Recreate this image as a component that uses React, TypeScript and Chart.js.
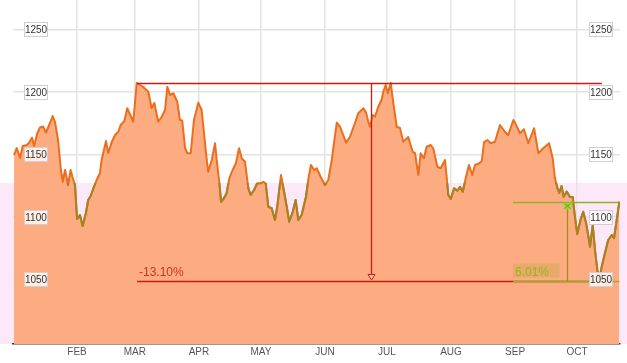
import React, { useEffect, useRef } from 'react';
import { Chart, registerables } from 'chart.js';

Chart.register(...registerables);

// Day of year (0 = Jan 1) and closing values
const days = [
  0.5, 1.8, 3.4, 4.7, 6.6, 7.7, 9.2, 10.2, 11.8, 13.1,
  14.5, 16, 17.9, 19.2, 20.3, 21.8, 23.2, 24.1, 25.2, 26,
  26.6, 27.9, 28.9, 30, 31, 32.4, 33.7, 35.3, 36.4, 37.6,
  39.2, 40.5, 42.1, 42.9, 45, 46.1, 47.8, 49.4, 51, 52.1,
  53.9, 55.3, 58.2, 59.9, 62.9, 65.5, 67.1, 68.4, 70.3, 72,
  73.6, 74.7, 76, 77.6, 79.5, 80.8, 81.9, 83.3, 84.4, 86,
  87.6, 89.7, 91.3, 93.8, 94.5, 96.2, 97.8, 98.6, 99.9, 100.7,
  102.1, 103.4, 104.7, 106.3, 107.9, 109.4, 110.7, 112.3, 113.9, 115,
  116.7, 118.2, 119.9, 121.2, 122.3, 123.6, 125.2, 126.8, 127.9, 129.7,
  131.2, 132.5, 133.7, 135.4, 136.8, 138.1, 139.7, 141.8, 142.9, 144.2,
  145.8, 147, 148.9, 151, 152.6, 154.3, 156.7, 158.3, 161.2, 163.1,
  165.5, 167.1, 169.6, 170.9, 172, 172.8, 174.1, 175.2, 176.8, 178.5,
  179.2, 180.4, 181.4, 182.8, 184.1, 185.7, 187.3, 188.9, 191.3, 193.5,
  194.6, 196.2, 197.3, 198.9, 200.2, 202.2, 203.4, 205.4, 207, 209.1,
  209.9, 210.7, 211.9, 213.5, 215.1, 216.4, 217.7, 219.1, 220.7, 222.3,
  223.6, 225.7, 226.9, 228, 229.6, 231.2, 233.3, 235.7, 238.1, 239.7,
  242.2, 243.5, 245.4, 247.3, 249.4, 252.2, 254.3, 256.6, 259.5, 261.2,
  262.3, 263.5, 264.4, 265.5, 266.5, 268, 269.6, 270.9, 272, 273.1,
  274.8, 276, 277.4, 278.8, 279.3, 280.6, 281.7, 282.9, 283.8, 284.9,
  286.5, 288.1, 289.8, 290.9, 292.2, 293.5,
];

const closes = [
  1149.4, 1155, 1147, 1156.6, 1157.4, 1159, 1163.3, 1156.6, 1167, 1171.4,
  1172.2, 1167.4, 1175, 1180.6, 1176, 1161.4, 1137.4, 1128, 1137.4, 1131,
  1125.4, 1137.4, 1131, 1125.4, 1098.2, 1101.4, 1092.6, 1103, 1113.4, 1116.6,
  1124, 1129.4, 1135, 1145.4, 1160.6, 1151, 1159.8, 1165.4, 1168, 1173.4,
  1176.6, 1186.8, 1176, 1207, 1204, 1200, 1186.8, 1191, 1176, 1180,
  1185.4, 1204, 1197.4, 1198.8, 1192, 1177.4, 1177, 1155, 1150.8, 1150.8,
  1177.4, 1191.3, 1185.4, 1145.4, 1136, 1145.4, 1158.8, 1145.4, 1127, 1112,
  1114.8, 1118.8, 1130.8, 1137.4, 1142.8, 1154.8, 1146.8, 1144, 1122.8, 1117.4,
  1121.4, 1126.8, 1126.8, 1128, 1126.8, 1108, 1106.8, 1097.4, 1108, 1133.4,
  1120, 1108, 1096, 1104, 1113.4, 1097.4, 1101.4, 1116, 1129.4, 1141.4,
  1137.4, 1138.8, 1132, 1125.4, 1129.4, 1145.4, 1175.3, 1172, 1159.3, 1164,
  1174.8, 1182.8, 1186.8, 1183.3, 1176, 1172, 1181.4, 1180, 1188, 1194,
  1200, 1205.4, 1198.8, 1207, 1190.8, 1172, 1171, 1160, 1163.8, 1151.8,
  1150.8, 1133.4, 1150.8, 1146.8, 1156, 1157.4, 1154.8, 1140, 1138.8, 1145.4,
  1132, 1117.4, 1114.2, 1122.8, 1120.8, 1124, 1120, 1130.8, 1141.4, 1133.4,
  1141.4, 1142.8, 1144.6, 1159.8, 1161.4, 1158.8, 1160, 1173.4, 1168, 1165.4,
  1177.4, 1173.4, 1166.8, 1170, 1158.8, 1170.8, 1150.8, 1154.8, 1158.8, 1147,
  1131, 1123, 1119, 1124.6, 1116, 1120.2, 1115.8, 1115.8, 1100, 1086.2,
  1098.2, 1104, 1094.8, 1081.4, 1076, 1093.4, 1073.4, 1056.6, 1049, 1059.8,
  1070.8, 1081.4, 1085.4, 1082.8, 1097.4, 1112,
];

const monthDays = [31, 59, 90, 120, 151, 181, 212, 243, 273];
const monthLabels = ['FEB', 'MAR', 'APR', 'MAY', 'JUN', 'JUL', 'AUG', 'SEP', 'OCT'];
const yTicks = [1050, 1100, 1150, 1200, 1250];

// Pink zone top
const bandTop = 1127;

// Drawdown annotation
const ddHigh = 1207;
const ddLow = 1049;
const ddStartDay = 60;
const ddEndDay = 285;
const ddArrowDay = 173.3;
const ddLabel = '-13.10%';

// Rebound annotation
const rbHigh = 1112;
const rbLow = 1049;
const rbStartDay = 242;
const rbEndDay = 293.5;
const rbMarkDay = 268.2;
const rbLabel = '6.01%';

const FONT = '"Liberation Sans", Arial, sans-serif';

export default function App() {
  const ref = useRef<HTMLCanvasElement | null>(null);

  useEffect(() => {
    document.body.style.margin = '0';
    const canvas = ref.current;
    if (!canvas) return;
    const pts = days.map((d, i) => ({ x: d, y: closes[i] }));

    const bandPlugin = {
      id: 'band',
      beforeDraw(chart: any) {
        const { ctx, scales } = chart;
        const y0 = scales.y.getPixelForValue(bandTop);
        const y1 = chart.chartArea.bottom;
        ctx.save();
        ctx.fillStyle = 'rgb(252,232,248)';
        ctx.fillRect(0, y0, chart.width, y1 - y0);
        ctx.restore();
      },
      beforeDatasetDraw(chart: any, args: any) {
        if (args.index !== 0) return;
        const { ctx, scales } = chart;
        const y0 = scales.y.getPixelForValue(bandTop);
        ctx.save();
        ctx.beginPath();
        ctx.rect(0, y0, chart.width, chart.height - y0);
        ctx.clip();
      },
      afterDatasetDraw(chart: any, args: any) {
        if (args.index !== 0) return;
        chart.ctx.restore();
      },
    };

    const annoPlugin = {
      id: 'anno',
      afterDatasetsDraw(chart: any) {
        const { ctx, scales } = chart;
        const X = (v: number) => scales.x.getPixelForValue(v);
        const Y = (v: number) => scales.y.getPixelForValue(v);
        ctx.save();
        // drawdown lines
        ctx.strokeStyle = 'rgb(205,25,20)';
        ctx.lineWidth = 1.3;
        ctx.beginPath();
        ctx.moveTo(X(ddStartDay), Math.round(Y(ddHigh)) + 0.5);
        ctx.lineTo(X(ddEndDay), Math.round(Y(ddHigh)) + 0.5);
        ctx.moveTo(X(ddStartDay), Math.round(Y(ddLow)) + 0.5);
        ctx.lineTo(X(ddEndDay), Math.round(Y(ddLow)) + 0.5);
        const ax = Math.round(X(ddArrowDay)) + 0.5;
        ctx.moveTo(ax, Y(ddHigh));
        ctx.lineTo(ax, Y(ddLow) - 5);
        ctx.stroke();
        // arrow head (open triangle)
        ctx.lineWidth = 1;
        ctx.beginPath();
        ctx.moveTo(ax - 3.5, Y(ddLow) - 6);
        ctx.lineTo(ax + 3.5, Y(ddLow) - 6);
        ctx.lineTo(ax, Y(ddLow) - 0.5);
        ctx.closePath();
        ctx.fillStyle = 'rgba(255,255,255,0.4)';
        ctx.fill();
        ctx.stroke();
        ctx.fillStyle = 'rgb(200,55,30)';
        ctx.font = '12px ' + FONT;
        ctx.textBaseline = 'alphabetic';
        ctx.textAlign = 'left';
        ctx.fillText(ddLabel, X(ddStartDay) + 2, Y(ddLow) - 5);

        // rebound
        const rx0 = X(rbStartDay), rx1 = X(rbEndDay), rxm = Math.round(X(rbMarkDay)) + 0.5;
        const ryh = Math.round(Y(rbHigh)) + 0.5, ryl = Math.round(Y(rbLow)) + 0.5;
        ctx.fillStyle = 'rgba(170,170,40,0.28)';
        ctx.fillRect(rx0, ryl - 18, rxm - rx0 - 8, 14);
        ctx.lineWidth = 1.3;
        ctx.strokeStyle = 'rgb(150,175,40)';
        ctx.beginPath();
        ctx.moveTo(rx0, ryh);
        ctx.lineTo(rx1, ryh);
        ctx.moveTo(rx0, ryl);
        ctx.lineTo(rx1, ryl);
        ctx.stroke();
        ctx.strokeStyle = 'rgb(165,140,30)';
        ctx.beginPath();
        ctx.moveTo(rxm, ryh);
        ctx.lineTo(rxm, ryl);
        ctx.stroke();
        ctx.lineWidth = 1;
        ctx.fillStyle = 'rgba(150,215,60,0.9)';
        ctx.fillRect(rxm - 4, ryh, 8, 7);
        ctx.strokeStyle = 'rgb(120,160,40)';
        ctx.beginPath();
        ctx.moveTo(rxm - 3, ryh + 1);
        ctx.lineTo(rxm + 3, ryh + 6);
        ctx.moveTo(rxm + 3, ryh + 1);
        ctx.lineTo(rxm - 3, ryh + 6);
        ctx.stroke();
        ctx.fillStyle = 'rgb(160,175,40)';
        ctx.font = '12px ' + FONT;
        ctx.fillText(rbLabel, rx0 + 2, ryl - 6);
        ctx.restore();
      },
      afterDraw(chart: any) {
        const { ctx, scales, chartArea } = chart;
        ctx.save();
        ctx.font = '10px ' + FONT;
        ctx.textAlign = 'center';
        ctx.textBaseline = 'middle';
        yTicks.forEach((t) => {
          const y = Math.round(scales.y.getPixelForValue(t));
          [chartArea.left + 11, chartArea.right - 31].forEach((bx) => {
            ctx.fillStyle = 'rgba(255,255,255,0.8)';
            ctx.fillRect(bx, y - 7, 24, 15);
            ctx.strokeStyle = '#cfcfcf';
            ctx.lineWidth = 1;
            ctx.strokeRect(bx + 0.5, y - 6.5, 23, 14);
            ctx.fillStyle = '#333';
            ctx.fillText(String(t), bx + 12, y + 1);
          });
        });
        ctx.restore();
      },
    };

    const chart = new Chart(canvas, {
      type: 'line',
      data: {
        datasets: [
          {
            data: pts,
            borderColor: 'rgb(165,130,35)',
            borderWidth: 2,
            fill: false,
            pointRadius: 0,
            tension: 0,
            borderJoinStyle: 'round',
          },
          {
            data: pts,
            borderColor: 'rgb(235,110,30)',
            backgroundColor: 'rgb(252,172,128)',
            borderWidth: 2,
            fill: 'start',
            pointRadius: 0,
            tension: 0,
            borderJoinStyle: 'round',
          },
        ],
      },
      options: {
        responsive: false,
        animation: false,
        layout: { padding: { left: 13, right: 7, top: 0, bottom: 3 } },
        plugins: { legend: { display: false }, tooltip: { enabled: false } },
        scales: {
          x: {
            type: 'linear',
            min: 0,
            max: 293.8,
            afterBuildTicks: (scale: any) => {
              scale.ticks = monthDays.map((v) => ({ value: v }));
            },
            ticks: {
              autoSkip: false,
              maxRotation: 0,
              padding: 2,
              color: '#555',
              font: { size: 10, family: FONT },
              callback: (v: any) => {
                const i = monthDays.indexOf(Number(v));
                return i >= 0 ? monthLabels[i] : '';
              },
            },
            grid: { color: '#e3e3e3', lineWidth: 1.5, drawTicks: false },
            border: { color: '#333', width: 1.5 },
          },
          y: {
            type: 'linear',
            min: 998.2,
            max: 1273.4,
            afterBuildTicks: (scale: any) => {
              scale.ticks = yTicks.map((v) => ({ value: v }));
            },
            ticks: { display: false },
            grid: { color: '#e3e3e3', lineWidth: 1.5, drawTicks: false },
            border: { display: false },
          },
        },
      },
      plugins: [bandPlugin, annoPlugin],
    } as any);

    return () => chart.destroy();
  }, []);

  return (
    <div style={{ width: 627, height: 363 }}>
      <canvas ref={ref} width={627} height={363} style={{ display: 'block' }} />
    </div>
  );
}
